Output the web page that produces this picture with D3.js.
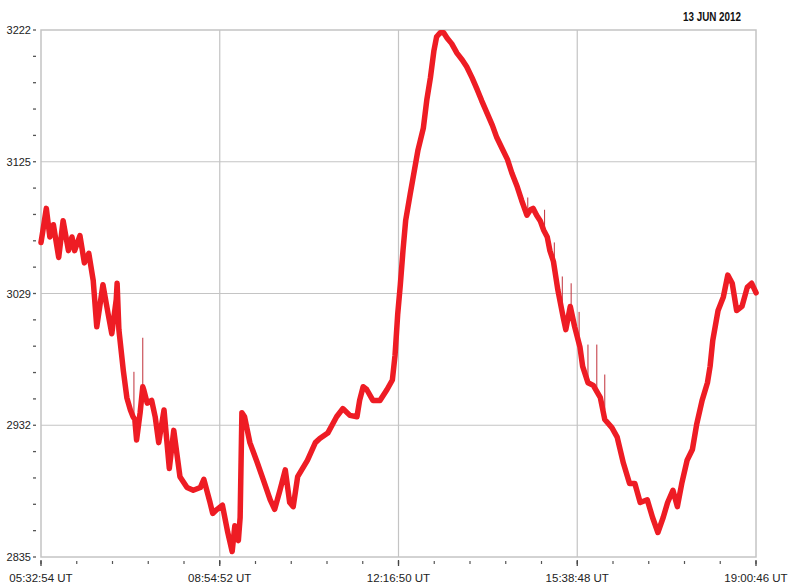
<!DOCTYPE html>
<html>
<head>
<meta charset="utf-8">
<script src="https://cdn.jsdelivr.net/npm/d3@7/dist/d3.min.js"></script>
<style>
  html, body { margin: 0; padding: 0; background: #fff; }
  svg { display: block; }
</style>
</head>
<body>
<svg id="chart" width="788" height="584"></svg>
<script>
// ---- Data ----
const startTime = "2012-06-13T05:32:54Z";
const endTime = "2012-06-13T19:00:46Z";
const dateLabel = "13 JUN 2012";
const yMin = 2835;
const yMax = 3222;

// minutes after 05:32:54 UT
const minutes = [0,2,6,10,14,20,25,31,35,38,44,49,54,59,63,70,76,80,85,86,88,93,97,101,104,106,108,112,115,116,120,125,129,133,139,145,150,157,165,172,180,184,191,194,199,205,211,216,219,223,225,227,230,236,244,251,259,264,270,276,281,285,290,301,310,315,324,334,341,349,357,360,364,368,375,383,391,397,400,403,406,409,412,417,420,426,432,436,440,444,447,451,455,459,464,470,476,481,487,493,498,504,510,515,521,527,532,538,543,549,553,556,560,564,568,572,575,579,584,590,593,598,603,609,612,618,624,632,637,645,651,658,665,671,677,685,691,697,703,708,714,719,724,730,736,741,747,753,756,759,765,771,776,781,786,792,798,803,808];
// field value
const values = [3066,3074,3091,3070,3079,3055,3082,3060,3070,3060,3071,3051,3058,3038,3004,3035,3013,2999,3024,3036,3002,2972,2952,2943,2938,2936,2921,2941,2960,2958,2948,2950,2938,2919,2943,2900,2928,2894,2886,2884,2886,2892,2875,2867,2870,2873,2853,2839,2858,2847,2864,2941,2938,2919,2905,2892,2877,2870,2884,2899,2875,2872,2894,2906,2919,2922,2926,2938,2944,2939,2938,2950,2960,2958,2950,2950,2958,2965,2983,3013,3035,3060,3082,3101,3112,3134,3150,3171,3187,3207,3217,3220,3220,3216,3212,3205,3200,3195,3187,3178,3170,3161,3152,3143,3135,3127,3117,3107,3097,3086,3090,3091,3086,3082,3075,3070,3060,3052,3031,3011,3002,3019,3004,2989,2975,2963,2961,2952,2936,2930,2923,2904,2889,2889,2875,2877,2864,2853,2864,2875,2884,2872,2889,2906,2914,2933,2950,2963,2975,2994,3016,3026,3042,3036,3016,3019,3033,3036,3029];

// short spikes: minute, base value, top value
const spikeMinutes = [105,115,550,569,580,589,599,608,618,628,637];
const spikeBase    = [2938,2958,3088,3073,3052,3016,3020,2991,2963,2958,2943];
const spikeTop     = [2971,2996,3099,3090,3066,3041,3036,3015,2991,2991,2969];

// ---- Chart ----
const svg = d3.select("#chart");
const margin = {left: 41, right: 32, top: 30, bottom: 27};
const W = 788, H = 584;
const x0 = margin.left, x1 = W - margin.right, y0 = margin.top, y1 = H - margin.bottom;

const t0 = new Date(startTime), t1 = new Date(endTime);
const toDate = m => new Date(t0.getTime() + m * 60000);

const x = d3.scaleUtc().domain([t0, t1]).range([x0, x1]);
const y = d3.scaleLinear().domain([yMin, yMax]).range([y1, y0]);

const span = t1 - t0;
const xMajor = d3.range(5).map(i => new Date(t0.getTime() + span * i / 4));
const xMinor = d3.range(21).map(i => new Date(t0.getTime() + span * i / 20));
const yMajor = d3.range(5).map(i => yMin + (yMax - yMin) * i / 4);
const yMinor = d3.range(21).map(i => yMin + (yMax - yMin) * i / 20);

const gridColor = "#c4c4c4";

// grid lines
svg.append("g").selectAll("line").data(yMajor.slice(1, 4)).join("line")
  .attr("x1", x0).attr("x2", x1)
  .attr("y1", d => y(d)).attr("y2", d => y(d))
  .attr("stroke", gridColor).attr("stroke-width", 1.2);
svg.append("g").selectAll("line").data(xMajor.slice(1, 4)).join("line")
  .attr("y1", y0).attr("y2", y1)
  .attr("x1", d => x(d)).attr("x2", d => x(d))
  .attr("stroke", gridColor).attr("stroke-width", 1.2);

// frame
svg.append("rect").attr("x", x0).attr("y", y0)
  .attr("width", x1 - x0).attr("height", y1 - y0)
  .attr("fill", "none").attr("stroke", gridColor).attr("stroke-width", 1.5);

// y axis ticks and labels
const fmtY = d => String(Math.round(d));
svg.append("g").selectAll("line").data(yMinor).join("line")
  .attr("x1", 33).attr("x2", 36)
  .attr("y1", d => y(d)).attr("y2", d => y(d))
  .attr("stroke", "#555").attr("stroke-width", 1.3);
svg.append("g").selectAll("text").data(yMajor).join("text")
  .attr("x", 31).attr("y", d => y(d) + 4)
  .attr("text-anchor", "end")
  .attr("font-family", "Liberation Sans, Arial, sans-serif")
  .attr("font-size", 11)
  .attr("fill", "#222")
  .text(fmtY);

// x axis ticks and labels
const fmtX = d3.utcFormat("%H:%M:%S UT");
svg.append("g").selectAll("line").data(xMinor).join("line")
  .attr("x1", d => x(d)).attr("x2", d => x(d))
  .attr("y1", 561).attr("y2", 564)
  .attr("stroke", "#555").attr("stroke-width", 1.2);
svg.append("g").selectAll("line").data(xMajor).join("line")
  .attr("x1", d => x(d)).attr("x2", d => x(d))
  .attr("y1", 560).attr("y2", 566)
  .attr("stroke", "#444").attr("stroke-width", 1.3);
svg.append("g").selectAll("text").data(xMajor).join("text")
  .attr("x", d => x(d)).attr("y", 582)
  .attr("text-anchor", "middle")
  .attr("font-family", "Liberation Sans, Arial, sans-serif")
  .attr("font-size", 11.5)
  .attr("fill", "#222")
  .text(fmtX);

// date label (condensed)
svg.append("text")
  .attr("x", 683).attr("y", 21)
  .attr("textLength", 58)
  .attr("lengthAdjust", "spacingAndGlyphs")
  .attr("font-family", "Liberation Sans Narrow, Arial Narrow, sans-serif")
  .attr("font-weight", "bold")
  .attr("font-size", 12)
  .attr("fill", "#111")
  .text(dateLabel);

// spikes
svg.append("g").selectAll("line").data(spikeMinutes).join("line")
  .attr("x1", (d) => x(toDate(d))).attr("x2", (d) => x(toDate(d)))
  .attr("y1", (d, i) => y(spikeBase[i])).attr("y2", (d, i) => y(spikeTop[i]))
  .attr("stroke", "#c0303a").attr("stroke-width", 1);

// main trace
const pts = minutes.map((m, i) => [toDate(m), values[i]]);
const line = d3.line().x(d => x(d[0])).y(d => y(d[1]));
svg.append("path").datum(pts)
  .attr("d", line)
  .attr("fill", "none")
  .attr("stroke", "#ee1c24")
  .attr("stroke-width", 5.5)
  .attr("stroke-linejoin", "round")
  .attr("stroke-linecap", "round");
</script>
</body>
</html>
